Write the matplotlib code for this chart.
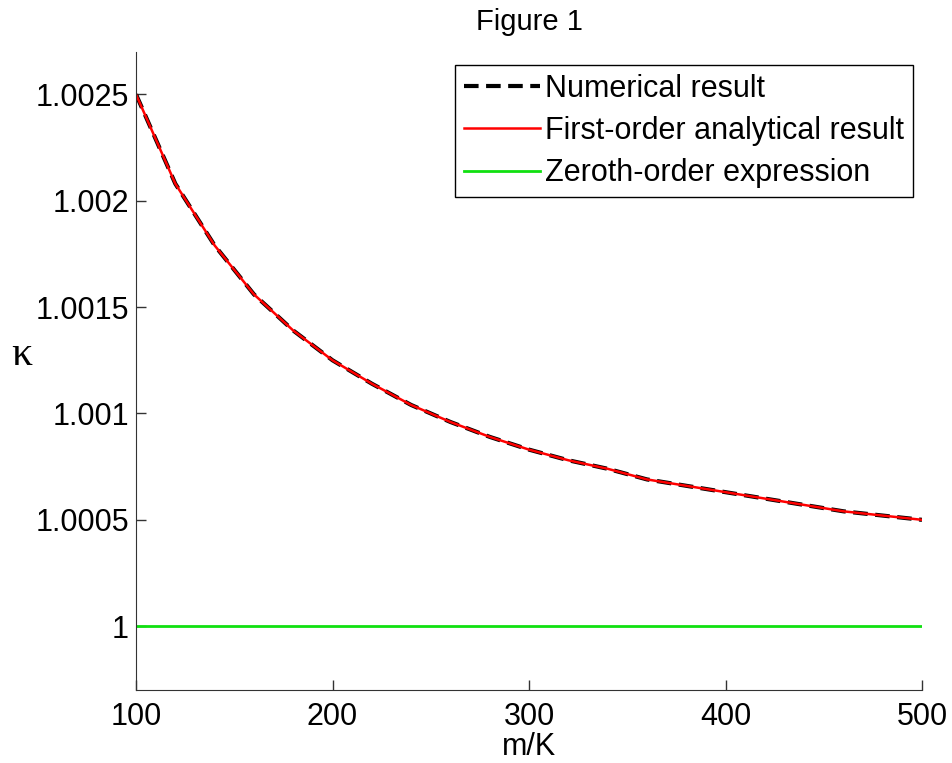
import numpy as np
from matplotlib import pyplot as plt

plt.rcParams["font.family"] = ["Liberation Sans", "DejaVu Sans"]

# m/K values and kappa values
m_K = [100, 120, 140, 160, 180, 200, 220, 240, 260, 280, 300,
       320, 340, 360, 380, 400, 420, 440, 460, 480, 500]
kappa_num = [1.0025, 1.00208, 1.00179, 1.00156, 1.00139, 1.00125, 1.00114,
             1.00104, 1.00096, 1.00089, 1.00083, 1.00078, 1.00074, 1.00069,
             1.00066, 1.00063, 1.0006, 1.00057, 1.00054, 1.00052, 1.0005]
kappa_first = [1.0025, 1.00208, 1.00179, 1.00156, 1.00139, 1.00125, 1.00114,
               1.00104, 1.00096, 1.00089, 1.00083, 1.00078, 1.00074, 1.00069,
               1.00066, 1.00063, 1.0006, 1.00057, 1.00054, 1.00052, 1.0005]
kappa_zero = [1.0] * len(m_K)

fig = plt.figure(figsize=(9.52, 7.63), dpi=100)
ax = fig.add_axes([0.1429, 0.0957, 0.8256, 0.8363])

ax.plot(m_K, kappa_num, "--", color="black", lw=3, dashes=(3.5, 1.8),
        label="Numerical result")
ax.plot(m_K, kappa_first, color="red", lw=1.8, label="First-order analytical result")
ax.plot(m_K, kappa_zero, color="#10e010", lw=2, label="Zeroth-order expression")

ax.set_xlim(100, 500)
ax.set_ylim(0.9997, 1.0027)
ax.set_xticks([100, 200, 300, 400, 500])
ax.set_yticks([1, 1.0005, 1.001, 1.0015, 1.002, 1.0025])
ax.set_yticklabels(["1", "1.0005", "1.001", "1.0015", "1.002", "1.0025"])
ax.tick_params(direction="in", length=7, labelsize=22, colors="#333333",
               labelcolor="black", width=1)
ax.tick_params(axis="x", pad=9)
ax.tick_params(axis="y", pad=5)
for s in ["top", "right"]:
    ax.spines[s].set_visible(False)
for s in ["left", "bottom"]:
    ax.spines[s].set_color("#333333")

ax.set_xlabel("m/K", fontsize=22, labelpad=0)
ax.set_ylabel("κ", fontsize=30, family="Liberation Serif", rotation=0,
              va="center", ha="center")
ax.yaxis.set_label_coords(-0.145, 0.525)
fig.text(0.556, 0.971, "Figure 1", fontsize=21, ha="center", va="center")

leg = ax.legend(loc="upper right", bbox_to_anchor=(0.9885, 0.98), fontsize=22,
                handlelength=2.5, handletextpad=0.15, borderpad=0.3,
                labelspacing=0.4, fancybox=False, framealpha=1, borderaxespad=0)
leg.get_frame().set_edgecolor("black")
leg.get_frame().set_linewidth(1)

fig.savefig("out.png", dpi=100)
